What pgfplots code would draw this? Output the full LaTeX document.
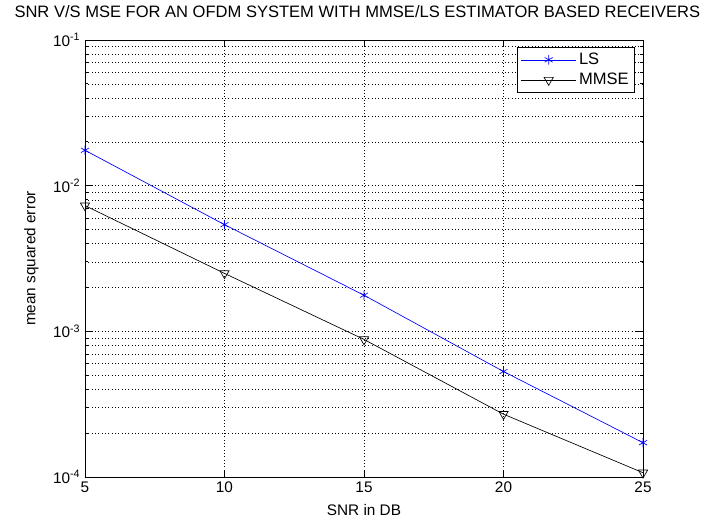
\documentclass[border=0pt]{standalone}
\usepackage{fontspec}
\setmainfont{Liberation Sans}
\usepackage{pgfplots}
\pgfplotsset{compat=1.18}

\newcommand{\mfont}{\fontsize{11.5}{13}\selectfont}
\newcommand{\tfont}{\fontsize{12.4}{14}\selectfont}

\begin{document}
\begin{tikzpicture}
\begin{semilogyaxis}[
    scale only axis,
    width=418.5pt, height=327.75pt,
    xmin=5, xmax=25, ymin=1e-4, ymax=1e-1,
    xtick={5,10,15,20,25},
    minor xtick={},
    ytick={1e-4,1e-3,1e-2,1e-1},
    yticklabels={10\textsuperscript{-4},10\textsuperscript{-3},10\textsuperscript{-2},10\textsuperscript{-1}},
    /pgf/number format/assume math mode=true,
    tick label style={font=\mfont},
    grid=both,
    major grid style={black, line width=0.4pt, dash pattern=on 0.5pt off 2pt},
    minor grid style={black, line width=0.4pt, dash pattern=on 0.5pt off 2pt},
    axis line style={black, line width=0.6pt},
    tick style={black, line width=0.6pt},
    tick align=inside,
    major tick length=5pt, minor tick length=2.5pt,
    xlabel={SNR in DB},
    ylabel={mean squared error},
    xlabel style={font=\mfont, at={(0.5,0)}, anchor=center, yshift=-25pt},
    ylabel style={font=\mfont, yshift=4pt},
    title={SNR V/S MSE FOR AN OFDM SYSTEM WITH MMSE/LS ESTIMATOR BASED RECEIVERS},
    title style={font=\tfont, at={(0.5,1)}, anchor=center, yshift=15pt, xshift=-5pt},
    legend style={at={(1,1)}, anchor=north east, xshift=-6pt, yshift=-5pt,
        font=\tfont, draw=black, line width=0.6pt, fill=white,
        row sep=1pt, inner sep=2.5pt},
    legend cell align=left,
    legend image code/.code={\draw[mark repeat=2,mark phase=2] plot coordinates {(0cm,0cm) (0.72cm,0cm) (1.44cm,0cm)};},
]
\addplot[blue, line width=0.5pt, mark=asterisk, mark size=3.5pt] coordinates {
    (5,0.0175)
    (10,0.0054)
    (15,0.00177)
    (20,0.00053)
    (25,0.000172)
};
\addplot[black, line width=0.5pt, mark=triangle, mark size=4pt, mark options={rotate=180, fill=white}] coordinates {
    (5,0.0073)
    (10,0.0025)
    (15,0.00088)
    (20,0.00027)
    (25,0.000107)
};
\legend{LS,MMSE}
\end{semilogyaxis}
\pgfresetboundingbox
\path ([xshift=-63.75pt,yshift=-33.75pt]current axis.south west) rectangle ([xshift=51.75pt,yshift=30pt]current axis.north east);
\end{tikzpicture}
\end{document}
